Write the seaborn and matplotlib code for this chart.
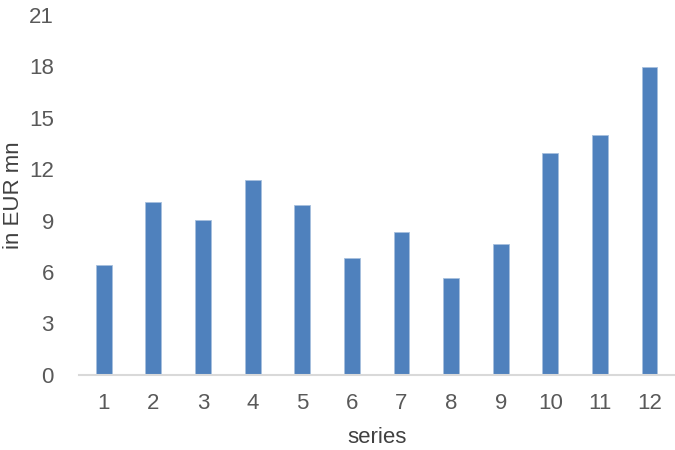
import matplotlib
matplotlib.use('Agg')
import matplotlib.pyplot as plt
import seaborn as sns

# ========== Data ==========
series = ['1', '2', '3', '4', '5', '6', '7', '8', '9', '10', '11', '12']
values = [6.38, 10.09, 9.04, 11.34, 9.88, 6.79, 8.36, 5.66, 7.62, 12.93, 14.0, 17.97]
y_ticks = [0, 3, 6, 9, 12, 15, 18, 21]

# ========== Style ==========
sns.set_style('white')
plt.rcParams['font.family'] = ['Liberation Sans', 'DejaVu Sans']

fig = plt.figure(figsize=(6.75, 4.5), dpi=100)
ax = fig.add_axes([0.117, 0.167, 0.882, 0.8])

sns.barplot(x=series, y=values, color='#4F81BD', saturation=1, width=0.32,
            edgecolor='#A7C0DE', linewidth=0.6, ax=ax)

ax.set_ylim(0, 21)
ax.set_xlim(-0.5, len(series) - 0.5)
ax.set_yticks(y_ticks)
ax.tick_params(axis='both', length=0, labelsize=16, labelcolor='#595959')
ax.tick_params(axis='x', pad=13)
ax.tick_params(axis='y', pad=18)

for side in ['top', 'right', 'left']:
    ax.spines[side].set_visible(False)
ax.spines['bottom'].set_color('#D9D9D9')
ax.spines['bottom'].set_linewidth(1.5)

ax.set_xlabel('series', fontsize=16, color='#404040', va='center')
ax.set_ylabel('in EUR mn', fontsize=16, color='#404040', va='center')
ax.xaxis.set_label_coords(0.5, -0.175)
ax.yaxis.set_label_coords(-0.11, 0.5)

plt.savefig('out.png', dpi=100)
